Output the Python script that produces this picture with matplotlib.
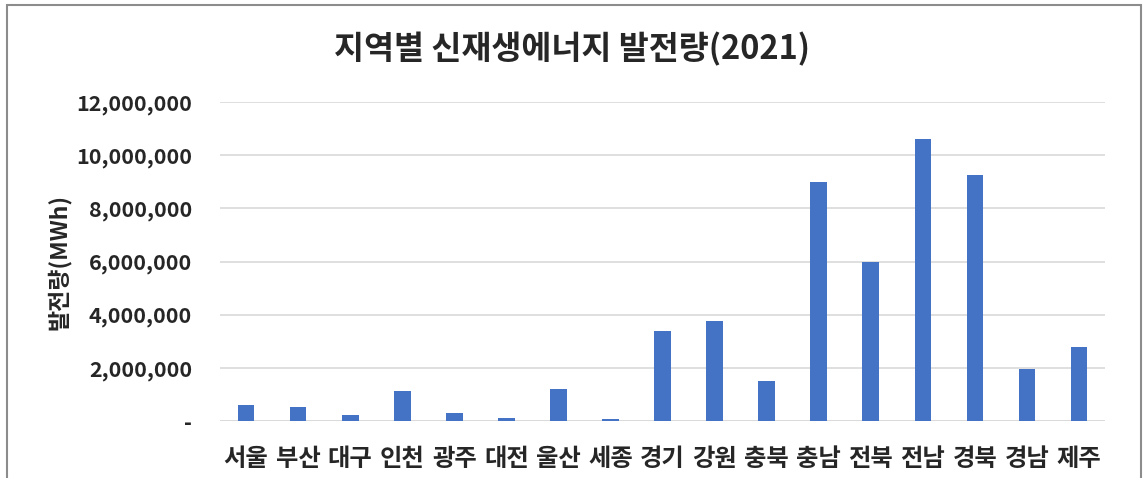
import matplotlib.pyplot as plt
from matplotlib.patches import Rectangle
from matplotlib.ticker import FuncFormatter

plt.rcParams['font.family'] = ['Noto Sans CJK KR', 'DejaVu Sans']

regions = ['서울', '부산', '대구', '인천', '광주', '대전', '울산', '세종', '경기',
           '강원', '충북', '충남', '전북', '전남', '경북', '경남', '제주']
generation_mwh = [600000, 540000, 220000, 1130000, 300000, 100000, 1200000, 90000,
                  3380000, 3760000, 1500000, 9000000, 6000000, 10600000, 9260000,
                  1950000, 2770000]
yticks = [0, 2000000, 4000000, 6000000, 8000000, 10000000, 12000000]

BAR_COLOR = '#4472C4'
GRID_COLOR = '#d9d9d9'
TEXT_COLOR = '#262626'

fig = plt.figure(figsize=(11.43, 4.78), dpi=100)
ax = fig.add_axes([0.1925, 0.1192, 0.7743, 0.6674])

x = range(len(regions))
ax.bar(x, generation_mwh, width=0.32, color=BAR_COLOR, zorder=3)

ax.set_xlim(-0.5, len(regions) - 0.5)
ax.set_ylim(0, 12000000)
ax.set_yticks(yticks)
ax.yaxis.set_major_formatter(FuncFormatter(lambda v, p: '-' if v == 0 else f'{int(v):,}'))
ax.set_xticks(list(x))
ax.set_xticklabels(regions)

ax.grid(axis='y', color=GRID_COLOR, linewidth=1.2, zorder=0)
for s in ['top', 'right', 'left', 'bottom']:
    ax.spines[s].set_visible(False)
ax.axhline(0, color=GRID_COLOR, linewidth=1.2, zorder=1)

ax.tick_params(axis='y', length=0, pad=20, labelsize=15.5, labelcolor=TEXT_COLOR)
ax.tick_params(axis='x', length=0, pad=19, labelsize=17.5, labelcolor=TEXT_COLOR)
for lbl in ax.get_yticklabels():
    lbl.set_fontweight('bold')
for lbl in ax.get_xticklabels():
    lbl.set_fontweight('bold')

ax.set_ylabel('발전량(MWh)', fontsize=16.5, fontweight='bold', color=TEXT_COLOR)
ax.yaxis.set_label_coords(-0.168, 0.5)

fig.text(0.5, 0.898, '지역별 신재생에너지 발전량(2021)', ha='center', va='center',
         fontsize=23.5, fontweight='bold', color=TEXT_COLOR)

# outer chart frame
fig.patches.append(Rectangle((7 / 1143, -0.01), 1134 / 1143, 0.999, transform=fig.transFigure,
                             fill=False, edgecolor='#8c8c8c', linewidth=1.5))

fig.savefig('out.png', dpi=100)
